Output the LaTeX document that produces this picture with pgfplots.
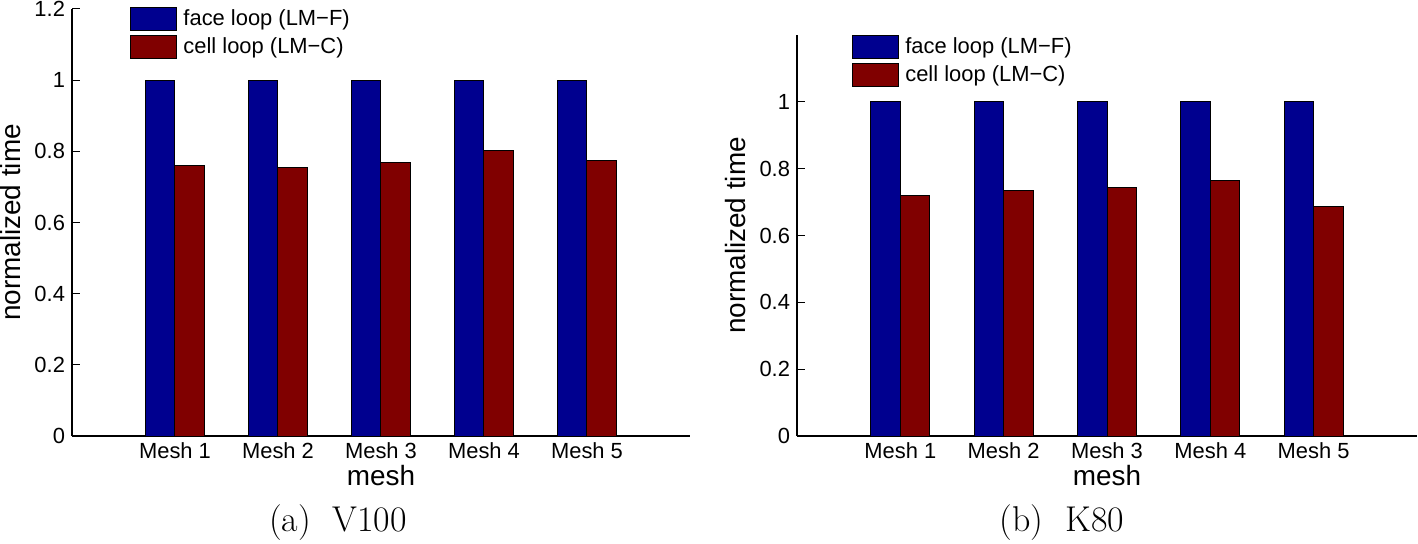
\documentclass[border=0pt]{standalone}
\usepackage{pgfplots}
\pgfplotsset{compat=1.18}
\usepackage{fontspec}
\newfontfamily\hv{Liberation Sans}
\definecolor{mblue}{RGB}{0,0,143}
\definecolor{mred}{RGB}{128,0,0}
\pgfplotsset{
 mstyle/.style={
  scale only axis, axis x line=bottom, axis y line=left,
  axis line style={-, line width=0.6bp},
  xmin=0, xmax=6, ymin=0, ymax=1.2,
  xtick={1,2,3,4,5},
  xticklabels={Mesh 1,Mesh 2,Mesh 3,Mesh 4,Mesh 5},
  tick align=inside, major tick length=4bp,
  tick style={black, line width=0.5bp},
  ticklabel style={font=\hv\fontsize{11}{13}\selectfont},
  /pgf/number format/assume math mode=true,
  label style={font=\hv\fontsize{14}{16}\selectfont},
  xlabel={mesh}, ylabel={normalized time},
  xlabel style={yshift=4bp},
  legend style={draw=none, fill=none, anchor=north west,
    font=\hv\fontsize{11}{13}\selectfont, row sep=2bp, inner sep=0pt,
    nodes={inner xsep=3bp, inner ysep=0.5bp}},
  legend cell align=left,
 },
 mbar/.style={ybar, bar width=0.286, draw=black, line width=0.5bp,
   legend image code/.code={\draw[##1,draw=black,line width=0.5bp] (0bp,-5.75bp) rectangle (23bp,5.75bp);}},
}
\pgfplotstableread{
x  f  c
1  1  0.761
2  1  0.754
3  1  0.770
4  1  0.802
5  1  0.775
}\tableA
\pgfplotstableread{
x  f  c
1  1  0.719
2  1  0.734
3  1  0.745
4  1  0.766
5  1  0.688
}\tableB
\begin{document}
\begin{tikzpicture}
\begin{axis}[mstyle, at={(36bp,54bp)}, anchor=south west,
  width=309bp, height=213.5bp,
  ytick={0,0.2,0.4,0.6,0.8,1,1.2},
  legend style={at={(rel axis cs:0.094,1.006)}}]
\addplot[mbar, fill=mblue, bar shift=-0.143] table[x=x,y=f]{\tableA};
\addlegendentry{face loop (LM−F)}
\addplot[mbar, fill=mred, bar shift=0.143] table[x=x,y=c]{\tableA};
\addlegendentry{cell loop (LM−C)}
\end{axis}
\begin{axis}[mstyle, at={(398.5bp,54bp)}, anchor=south west,
  width=310bp, height=200.5bp,
  ytick={0,0.2,0.4,0.6,0.8,1},
  legend style={at={(rel axis cs:0.0886,1.0)}}]
\addplot[mbar, fill=mblue, bar shift=-0.143] table[x=x,y=f]{\tableB};
\addlegendentry{face loop (LM−F)}
\addplot[mbar, fill=mred, bar shift=0.143] table[x=x,y=c]{\tableB};
\addlegendentry{cell loop (LM−C)}
\end{axis}
\node[font=\fontsize{18}{20}\selectfont] at (169bp,10.5bp) {(a)\ \ V100};
\node[font=\fontsize{18}{20}\selectfont] at (531bp,10.5bp) {(b)\ \ K80};
\pgfresetboundingbox
\useasboundingbox (0,0) rectangle (709bp,272bp);
\end{tikzpicture}
\end{document}
